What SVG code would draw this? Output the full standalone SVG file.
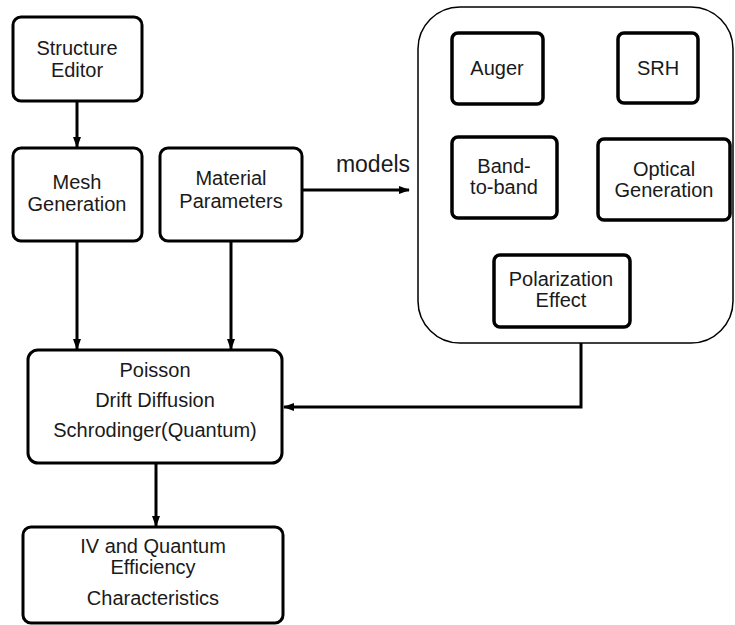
<svg xmlns="http://www.w3.org/2000/svg" width="735" height="625" viewBox="0 0 735 625">
<defs>
<marker id="ah" markerWidth="11" markerHeight="10" refX="10" refY="5" orient="auto" markerUnits="userSpaceOnUse">
<path d="M0,1 L11,5 L0,9 Z" fill="#000"/>
</marker>
<style>
.box{fill:#fff;stroke:#000;stroke-width:3}
.mbox{fill:#fff;stroke:#000;stroke-width:3.5}
.outer{fill:#fff;stroke:#000;stroke-width:1.5}
.t{font-family:"Liberation Sans",Arial,sans-serif;font-size:20px;fill:#1a1a1a;text-anchor:middle}
.c{fill:none;stroke:#000;stroke-width:3}
</style>
</defs>
<rect width="735" height="625" fill="#fff"/>
<g id="models-group">
<rect class="outer" x="418" y="7" width="315" height="336" rx="42"/>
</g>
<g id="structure-editor">
<rect class="box" x="13" y="17" width="129" height="84" rx="8"/>
<text class="t" x="77" y="55">Structure</text>
<text class="t" x="77" y="77">Editor</text>
</g>
<g id="mesh-generation">
<rect class="box" x="13" y="148" width="129" height="93" rx="8"/>
<text class="t" x="77" y="189">Mesh</text>
<text class="t" x="77" y="211">Generation</text>
</g>
<g id="material-parameters">
<rect class="box" x="160" y="148" width="142" height="93" rx="8"/>
<text class="t" x="231" y="185">Material</text>
<text class="t" x="231" y="208">Parameters</text>
</g>
<g id="auger">
<rect class="mbox" x="452" y="33" width="91" height="71" rx="6"/>
<text class="t" x="497" y="75">Auger</text>
</g>
<g id="srh">
<rect class="mbox" x="618" y="33" width="80" height="70" rx="6"/>
<text class="t" x="658" y="75">SRH</text>
</g>
<g id="band-to-band">
<rect class="mbox" x="452" y="137" width="105" height="81" rx="6"/>
<text class="t" x="504" y="173">Band-</text>
<text class="t" x="504" y="194">to-band</text>
</g>
<g id="optical-generation">
<rect class="mbox" x="598" y="139" width="132" height="81" rx="6"/>
<text class="t" x="664" y="176">Optical</text>
<text class="t" x="664" y="197">Generation</text>
</g>
<g id="polarization-effect">
<rect class="mbox" x="494" y="255" width="136" height="72" rx="6"/>
<text class="t" x="561" y="286">Polarization</text>
<text class="t" x="561" y="307">Effect</text>
</g>
<g id="poisson">
<rect class="box" x="28" y="350" width="254" height="113" rx="10"/>
<text class="t" x="155" y="377">Poisson</text>
<text class="t" x="155" y="407">Drift Diffusion</text>
<text class="t" x="155" y="437">Schrodinger(Quantum)</text>
</g>
<g id="iv-characteristics">
<rect class="box" x="23" y="527" width="260" height="96" rx="8"/>
<text class="t" x="153" y="553">IV and Quantum</text>
<text class="t" x="153" y="574">Efficiency</text>
<text class="t" x="153" y="605">Characteristics</text>
</g>
<g id="connectors">
<line class="c" x1="77" y1="101" x2="77" y2="147" marker-end="url(#ah)"/>
<line class="c" x1="77" y1="241" x2="77" y2="349" marker-end="url(#ah)"/>
<line class="c" x1="231" y1="241" x2="231" y2="349" marker-end="url(#ah)"/>
<line class="c" x1="302" y1="190" x2="409" y2="190" marker-end="url(#ah)"/>
<polyline class="c" points="581,343 581,407 284,407" marker-end="url(#ah)"/>
<line class="c" x1="156" y1="463" x2="156" y2="526" marker-end="url(#ah)"/>
<text x="373" y="172" style="font-family:'Liberation Sans',Arial,sans-serif;font-size:23px;fill:#1a1a1a;text-anchor:middle">models</text>
</g>
</svg>
